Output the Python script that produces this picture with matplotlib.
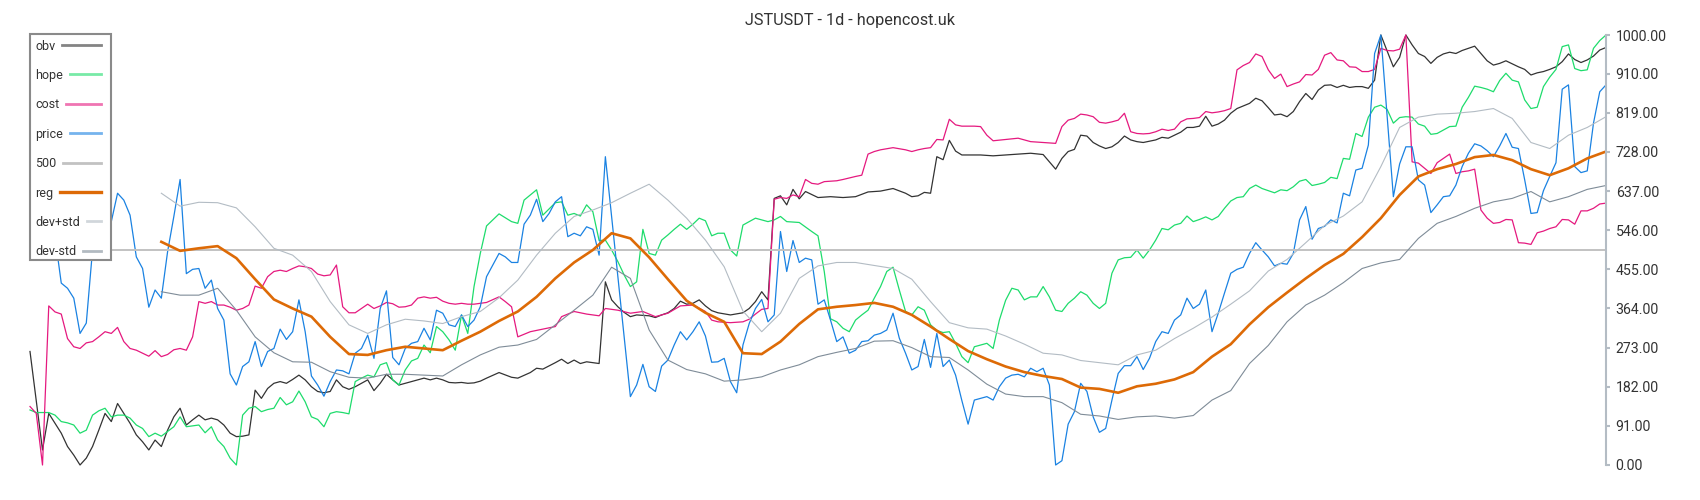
import matplotlib.pyplot as plt
from matplotlib.lines import Line2D
from matplotlib.patches import Rectangle

plt.rcParams['font.family'] = ['Roboto', 'DejaVu Sans']

title = "JSTUSDT - 1d - hopencost.uk"
n_days = 253
tick_values = [0, 91, 182, 273, 364, 455, 546, 637, 728, 819, 910, 1000]
tick_labels = ["0.00", "91.00", "182.00", "273.00", "364.00", "455.00",
               "546.00", "637.00", "728.00", "819.00", "910.00", "1000.00"]
level_500 = 500
legend_names = ["obv", "hope", "cost", "price", "500", "reg", "dev+std", "dev-std"]

# obv: (day, value)
obv_days = [0, 2, 3, 4, 5, 6, 7, 8, 9, 10, 11, 12, 13, 14, 15, 16, 17, 18, 19, 20,
            21, 22, 23, 24, 25, 26, 27, 28, 29, 30, 31, 32, 33, 34, 35, 36, 37, 38, 39, 40,
            41, 42, 43, 44, 45, 46, 47, 48, 49, 50, 51, 52, 53, 54, 55, 56, 57, 58, 59, 60,
            61, 62, 63, 64, 65, 66, 67, 68, 69, 70, 71, 72, 73, 75, 77, 78, 80, 81, 82, 84,
            85, 86, 87, 88, 89, 91, 92, 93, 94, 95, 96, 97, 99, 100, 101, 102, 103, 104, 105, 106,
            107, 108, 109, 110, 112, 114, 115, 116, 117, 118, 119, 120, 121, 122, 123, 124, 126, 128, 130, 132,
            134, 136, 138, 140, 141, 142, 143, 144, 145, 146, 147, 148, 149, 150, 152, 154, 156, 158, 160, 162,
            164, 165, 166, 167, 168, 169, 170, 171, 172, 173, 174, 175, 176, 177, 178, 180, 181, 182, 183, 184,
            185, 186, 187, 188, 189, 190, 191, 192, 193, 194, 195, 196, 197, 198, 199, 200, 201, 202, 203, 204,
            205, 206, 207, 208, 209, 210, 211, 212, 213, 214, 215, 216, 217, 218, 219, 220, 221, 222, 223, 224,
            225, 226, 227, 228, 229, 230, 231, 232, 233, 234, 235, 236, 237, 238, 239, 240, 241, 242, 243, 244,
            245, 246, 247, 248, 249, 250, 251, 252]
obv = [264, 35, 120, 97, 74, 43, 23, 0, 16, 43, 81, 120, 101, 143, 120, 97, 70, 54, 35, 58,
       43, 81, 112, 132, 93, 105, 116, 105, 109, 105, 93, 74, 66, 67, 70, 174, 155, 178, 190, 194,
       190, 199, 209, 198, 182, 171, 168, 171, 198, 182, 176, 182, 190, 198, 173, 190, 211, 198, 186, 190,
       194, 198, 202, 198, 202, 198, 192, 191, 192, 190, 191, 195, 202, 215, 204, 202, 215, 225, 223, 238,
       246, 236, 244, 236, 240, 236, 426, 384, 368, 355, 345, 349, 347, 343, 349, 354, 364, 381, 374, 376,
       384, 370, 359, 354, 349, 354, 364, 380, 403, 384, 620, 626, 605, 641, 619, 636, 622, 624, 622, 624,
       635, 637, 643, 632, 624, 626, 634, 632, 717, 710, 755, 730, 721, 721, 721, 719, 721, 723, 725, 722,
       688, 713, 729, 734, 767, 765, 750, 742, 736, 740, 750, 765, 756, 752, 750, 756, 762, 760, 767, 774,
       785, 785, 788, 811, 788, 793, 802, 818, 829, 835, 841, 853, 847, 831, 814, 816, 810, 822, 845, 864,
       850, 872, 883, 884, 878, 883, 878, 880, 880, 876, 895, 1000, 963, 926, 948, 1000, 977, 957, 950, 934,
       948, 956, 960, 957, 964, 969, 974, 957, 940, 930, 934, 940, 933, 926, 920, 907, 912, 915, 920, 926,
       938, 956, 943, 936, 942, 951, 965, 971]

hope_days = [0, 1, 3, 4, 5, 6, 7, 8, 9, 10, 11, 12, 13, 14, 15, 16, 17, 18, 19, 20,
             21, 22, 23, 24, 25, 26, 27, 28, 29, 30, 31, 32, 33, 34, 35, 36, 37, 38, 39, 40,
             41, 42, 43, 44, 45, 46, 47, 48, 49, 50, 51, 52, 53, 54, 55, 56, 57, 58, 59, 60,
             61, 62, 63, 64, 65, 66, 67, 68, 69, 70, 71, 72, 73, 75, 77, 78, 79, 80, 81, 82,
             84, 85, 86, 87, 88, 89, 90, 91, 92, 93, 94, 95, 96, 97, 98, 99, 100, 101, 102, 103,
             104, 105, 106, 107, 108, 109, 110, 111, 112, 113, 114, 116, 118, 119, 120, 121, 123, 125, 126, 127,
             128, 129, 130, 131, 132, 133, 134, 135, 136, 137, 138, 139, 140, 141, 142, 143, 144, 145, 146, 147,
             148, 149, 150, 151, 152, 153, 154, 155, 156, 157, 158, 159, 160, 161, 162, 163, 164, 165, 166, 167,
             168, 169, 170, 171, 172, 173, 174, 175, 176, 177, 178, 179, 180, 181, 182, 183, 184, 185, 186, 187,
             188, 189, 190, 191, 192, 193, 194, 195, 196, 197, 198, 199, 200, 201, 202, 203, 204, 205, 206, 207,
             208, 209, 210, 211, 212, 213, 214, 215, 216, 217, 218, 219, 220, 221, 222, 223, 224, 225, 226, 227,
             228, 229, 230, 231, 232, 233, 234, 235, 236, 237, 238, 239, 240, 241, 242, 243, 244, 245, 246, 247,
             248, 249, 250, 251, 252]
hope = [128, 122, 122, 116, 101, 98, 93, 74, 81, 116, 126, 132, 112, 116, 116, 109, 93, 85, 66, 74,
        67, 78, 89, 112, 89, 91, 93, 75, 89, 58, 43, 16, 0, 116, 132, 136, 124, 129, 132, 157,
        140, 147, 172, 147, 112, 106, 89, 120, 124, 122, 119, 194, 202, 209, 205, 233, 238, 198, 186, 221,
        242, 248, 279, 261, 322, 310, 291, 267, 349, 306, 415, 492, 556, 584, 566, 562, 616, 628, 640, 581,
        610, 612, 581, 585, 579, 605, 589, 522, 523, 500, 473, 442, 415, 426, 548, 492, 488, 523, 535, 548,
        560, 548, 560, 574, 568, 533, 539, 539, 500, 486, 558, 574, 566, 570, 578, 566, 564, 543, 533, 450,
        340, 333, 318, 310, 337, 349, 360, 388, 415, 450, 460, 407, 357, 349, 368, 360, 326, 313, 308, 310,
        283, 252, 238, 275, 279, 283, 271, 337, 383, 411, 407, 384, 391, 391, 415, 391, 360, 357, 376, 388,
        403, 395, 376, 364, 376, 446, 477, 482, 483, 500, 481, 500, 523, 550, 547, 558, 562, 579, 566, 571,
        577, 570, 578, 597, 614, 622, 624, 643, 651, 643, 638, 633, 640, 638, 647, 660, 664, 650, 653, 657,
        669, 666, 713, 711, 771, 764, 809, 832, 837, 827, 795, 808, 810, 809, 793, 788, 769, 771, 779, 787,
        788, 832, 855, 881, 878, 874, 868, 894, 911, 895, 891, 849, 829, 832, 880, 902, 920, 973, 977, 922,
        917, 919, 969, 987, 1000]

cost_days = [0, 1, 2, 3, 4, 5, 6, 7, 8, 9, 10, 11, 12, 13, 14, 15, 16, 17, 18, 19,
             20, 21, 22, 23, 24, 25, 26, 27, 28, 29, 30, 31, 32, 33, 34, 35, 36, 37, 38, 39,
             40, 41, 42, 43, 44, 45, 46, 47, 48, 49, 50, 51, 52, 53, 54, 55, 56, 57, 58, 59,
             60, 61, 62, 63, 64, 65, 66, 67, 68, 69, 70, 71, 72, 73, 75, 76, 77, 78, 80, 82,
             84, 85, 87, 89, 91, 92, 94, 96, 98, 100, 102, 104, 106, 108, 109, 110, 112, 114, 115, 116,
             117, 118, 119, 120, 121, 122, 123, 124, 125, 126, 127, 129, 130, 132, 133, 134, 135, 136, 138, 140,
             141, 142, 143, 144, 145, 146, 147, 148, 149, 151, 152, 153, 154, 156, 158, 160, 162, 164, 165, 166,
             167, 168, 169, 170, 171, 172, 173, 174, 175, 176, 177, 178, 179, 180, 181, 182, 183, 184, 185, 186,
             187, 188, 189, 190, 191, 192, 193, 194, 195, 196, 197, 198, 199, 200, 201, 202, 203, 204, 205, 206,
             207, 208, 209, 210, 211, 212, 213, 214, 215, 216, 217, 218, 219, 220, 221, 222, 223, 224, 225, 226,
             227, 228, 229, 230, 231, 232, 233, 234, 235, 236, 237, 238, 239, 240, 241, 242, 243, 244, 245, 246,
             247, 248, 249, 250, 251, 252]
cost = [136, 120, 0, 370, 356, 351, 294, 275, 271, 284, 287, 298, 310, 306, 320, 287, 271, 267, 260, 253,
        266, 252, 257, 268, 271, 267, 298, 380, 376, 380, 372, 372, 367, 360, 364, 372, 416, 411, 438, 450,
        453, 450, 457, 463, 461, 457, 444, 440, 442, 465, 368, 354, 354, 364, 374, 364, 370, 378, 375, 367,
        368, 372, 388, 391, 388, 390, 381, 376, 374, 376, 374, 374, 376, 378, 391, 380, 368, 298, 310, 316,
        322, 345, 357, 351, 347, 364, 360, 353, 357, 345, 353, 370, 372, 357, 337, 333, 331, 333, 339, 351,
        362, 364, 618, 622, 620, 628, 624, 664, 655, 653, 659, 661, 664, 671, 674, 723, 729, 733, 738, 733,
        729, 733, 736, 738, 757, 756, 804, 791, 788, 788, 787, 767, 754, 757, 760, 752, 750, 748, 787, 802,
        806, 816, 814, 810, 797, 795, 798, 802, 818, 775, 771, 770, 771, 775, 781, 778, 781, 798, 805, 806,
        808, 822, 819, 821, 824, 829, 919, 929, 936, 956, 950, 919, 899, 909, 880, 886, 891, 908, 907, 920,
        953, 959, 942, 940, 926, 925, 915, 915, 920, 969, 964, 963, 967, 1000, 705, 702, 690, 678, 703, 713,
        723, 678, 682, 684, 688, 593, 574, 562, 564, 571, 570, 517, 516, 513, 540, 544, 550, 554, 571, 570,
        560, 591, 591, 597, 607, 609]

price_days = [0, 1, 3, 4, 5, 6, 7, 8, 9, 10, 13, 14, 15, 16, 17, 18, 19, 20, 21, 22,
              23, 24, 25, 26, 27, 28, 29, 30, 31, 32, 33, 34, 35, 36, 37, 38, 39, 40, 41, 42,
              43, 44, 45, 46, 47, 48, 49, 50, 51, 52, 53, 54, 55, 56, 57, 58, 59, 60, 61, 62,
              63, 64, 65, 66, 67, 68, 69, 70, 71, 72, 73, 74, 75, 76, 77, 78, 79, 80, 81, 82,
              83, 84, 85, 86, 87, 88, 89, 90, 91, 92, 96, 97, 98, 99, 100, 101, 102, 103, 104, 105,
              106, 107, 108, 109, 110, 111, 112, 113, 114, 115, 116, 117, 118, 119, 120, 121, 122, 123, 124, 125,
              126, 127, 128, 129, 130, 131, 132, 133, 134, 135, 136, 137, 138, 139, 140, 141, 142, 143, 144, 145,
              146, 147, 148, 149, 150, 151, 152, 153, 154, 155, 156, 157, 158, 159, 160, 161, 162, 163, 164, 165,
              166, 167, 168, 169, 170, 171, 172, 173, 174, 175, 176, 177, 178, 179, 180, 181, 182, 183, 184, 185,
              186, 187, 188, 189, 190, 191, 192, 193, 194, 195, 196, 197, 198, 199, 200, 201, 202, 203, 204, 205,
              206, 207, 208, 209, 210, 211, 212, 213, 214, 215, 216, 218, 219, 220, 221, 222, 223, 224, 225, 226,
              227, 228, 229, 230, 231, 232, 233, 234, 235, 236, 237, 238, 239, 240, 241, 242, 243, 244, 245, 246,
              247, 248, 249, 250, 251, 252]
price = [750, 570, 540, 530, 423, 411, 388, 306, 330, 500, 566, 632, 616, 581, 484, 457, 367, 407, 388, 496,
         578, 664, 445, 455, 457, 411, 430, 364, 337, 212, 186, 229, 240, 287, 229, 264, 271, 316, 292, 310,
         384, 310, 207, 186, 160, 194, 221, 219, 212, 260, 271, 302, 248, 364, 405, 250, 233, 271, 283, 287,
         318, 291, 360, 353, 326, 322, 349, 322, 337, 368, 438, 465, 492, 484, 471, 471, 560, 581, 618, 566,
         585, 612, 624, 531, 539, 533, 554, 548, 488, 717, 159, 186, 234, 182, 171, 230, 244, 279, 310, 291,
         310, 333, 300, 239, 240, 248, 194, 168, 279, 329, 364, 385, 333, 349, 543, 450, 522, 471, 481, 477,
         374, 384, 337, 287, 298, 260, 267, 287, 289, 302, 306, 314, 353, 295, 260, 221, 229, 292, 227, 306,
         229, 244, 209, 150, 95, 151, 155, 159, 151, 182, 202, 209, 211, 205, 225, 217, 225, 186, 0, 10,
         95, 124, 190, 171, 112, 76, 85, 151, 213, 231, 231, 252, 222, 248, 287, 310, 306, 337, 349, 388,
         364, 374, 407, 310, 353, 400, 446, 455, 460, 492, 517, 500, 484, 463, 469, 467, 492, 570, 601, 525,
         550, 555, 570, 563, 632, 626, 686, 690, 744, 957, 1000, 624, 700, 740, 740, 663, 651, 587, 605, 624,
         626, 651, 694, 725, 747, 742, 731, 717, 742, 771, 739, 736, 663, 585, 587, 638, 671, 703, 874, 884,
         694, 680, 684, 795, 868, 884]

# regression band, sampled every third day from day 21
band_days = list(range(21, 253, 3))
reg = [519, 498, 504, 509, 481, 432, 385, 364, 345, 298,
       258, 256, 267, 275, 271, 267, 289, 310, 335, 357,
       391, 434, 471, 500, 539, 527, 483, 432, 382, 354,
       333, 260, 258, 287, 328, 362, 368, 372, 377, 368,
       349, 322, 293, 265, 246, 229, 216, 207, 200, 180,
       177, 168, 183, 189, 199, 216, 252, 281, 327, 367,
       401, 434, 465, 491, 530, 574, 628, 671, 688, 700,
       716, 721, 709, 688, 674, 690, 713, 729]
dev_plus = [632, 602, 611, 610, 598, 554, 504, 488, 450, 380,
            326, 306, 326, 339, 335, 329, 345, 357, 389, 430,
            488, 539, 578, 593, 610, 632, 653, 616, 574, 523,
            461, 358, 310, 353, 434, 463, 471, 471, 464, 457,
            432, 380, 331, 319, 316, 300, 281, 260, 256, 243,
            238, 233, 256, 267, 294, 318, 344, 374, 405, 451,
            478, 517, 557, 579, 612, 694, 785, 809, 816, 818,
            822, 829, 806, 750, 736, 767, 785, 810]
dev_minus = [403, 395, 395, 411, 360, 298, 261, 240, 239, 217,
             204, 202, 211, 211, 209, 207, 233, 256, 274, 279,
             292, 326, 360, 395, 460, 434, 314, 244, 222, 212,
             195, 198, 205, 221, 233, 252, 262, 271, 288, 289,
             273, 252, 250, 221, 188, 165, 159, 159, 145, 118,
             114, 106, 112, 114, 109, 115, 151, 173, 236, 278,
             333, 372, 395, 424, 457, 470, 478, 527, 562, 578,
             597, 612, 620, 636, 612, 624, 641, 650]

colors = {
    "obv": "#333333",
    "hope": "#1edc6c",
    "cost": "#e5197f",
    "price": "#1a82e2",
    "500": "#c2c2c2",
    "reg": "#dd6a06",
    "dev+std": "#b3bcc4",
    "dev-std": "#7f8c98",
}

W, H = 1700, 500
fig = plt.figure(figsize=(17, 5), dpi=100)
ax = fig.add_axes([30 / W, 35 / H, 1576 / W, 430 / H])

ax.plot(obv_days, obv, color=colors["obv"], linewidth=0.9, clip_on=False)
ax.plot(hope_days, hope, color=colors["hope"], linewidth=0.9, clip_on=False)
ax.plot(cost_days, cost, color=colors["cost"], linewidth=0.9, clip_on=False)
ax.plot(price_days, price, color=colors["price"], linewidth=0.9, clip_on=False)
ax.axhline(level_500, color=colors["500"], linewidth=1.4)
ax.plot(band_days, reg, color=colors["reg"], linewidth=1.9)
ax.plot(band_days, dev_plus, color=colors["dev+std"], linewidth=0.8)
ax.plot(band_days, dev_minus, color=colors["dev-std"], linewidth=0.8)

ax.set_xlim(0, n_days - 1)
ax.set_ylim(0, 1000)
ax.set_xticks([])
ax.yaxis.tick_right()
ax.set_yticks(tick_values)
ax.set_yticklabels(tick_labels)
ax.tick_params(axis='y', length=3, width=1.5, color='#b4bcc4', labelcolor='#333333',
               labelsize=10.2, pad=4)
for side in ['left', 'top', 'bottom']:
    ax.spines[side].set_visible(False)
ax.spines['right'].set_color('#b4bcc4')
ax.spines['right'].set_linewidth(1.5)

# legend box drawn by hand: text on the left, short line sample on the right
box = Rectangle((30 / W, 1 - 260 / H), 81 / W, 226 / H, transform=fig.transFigure,
                facecolor='white', edgecolor='#8a8a8a', linewidth=1.5, zorder=5)
fig.add_artist(box)
renderer = fig.canvas.get_renderer()
for i, name in enumerate(legend_names):
    base = 49.5 + 29.4 * i
    t = fig.text(35 / W, 1 - base / H, name, fontsize=9, color='#333333',
                 va='baseline', ha='left', zorder=6)
    x_end = t.get_window_extent(renderer).x1
    ly = 1 - (base - 4.5) / H
    lw = 2.4 if name == "reg" else 2.0
    alpha = 1.0 if name in ("reg", "500") else 0.6
    fig.add_artist(Line2D([(x_end + 7) / W, 100.7 / W], [ly, ly], transform=fig.transFigure,
                          color=colors[name], linewidth=lw, alpha=alpha, zorder=6))

fig.text(0.5, 1 - 21 / H, title, ha='center', va='center', fontsize=11.7, color='#333333')

fig.savefig("out.png", dpi=100, facecolor='white')
